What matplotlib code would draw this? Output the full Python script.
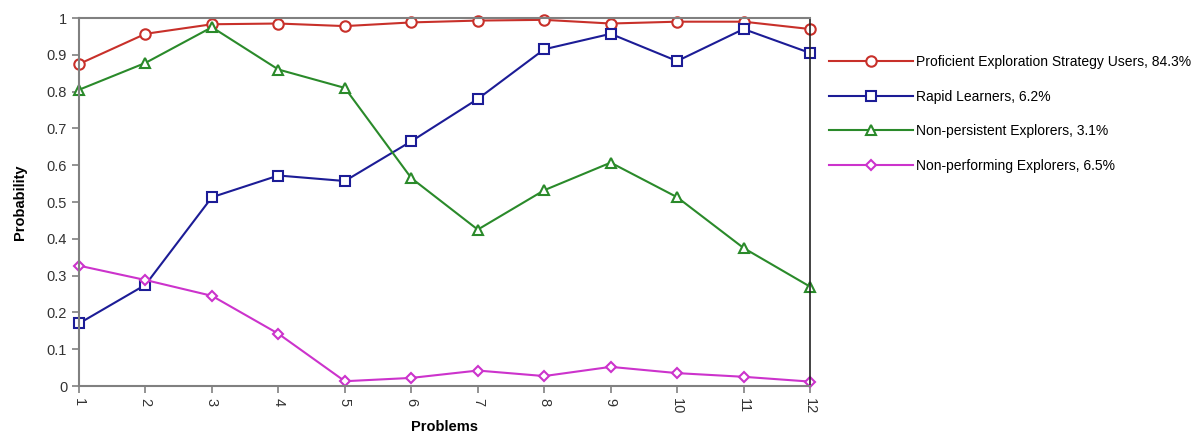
import matplotlib
matplotlib.use("Agg")
import matplotlib.pyplot as plt

# 数据：每个问题上的概率
problems = list(range(1, 13))
proficient = [0.875, 0.957, 0.983, 0.985, 0.978, 0.988, 0.993, 0.995, 0.985, 0.990, 0.990, 0.970]
rapid = [0.170, 0.275, 0.513, 0.572, 0.557, 0.665, 0.780, 0.915, 0.957, 0.883, 0.970, 0.905]
non_persistent = [0.805, 0.878, 0.975, 0.860, 0.810, 0.565, 0.425, 0.532, 0.607, 0.513, 0.375, 0.270]
non_performing = [0.327, 0.288, 0.245, 0.142, 0.013, 0.022, 0.042, 0.027, 0.052, 0.035, 0.025, 0.012]

labels = [
    "Proficient Exploration Strategy Users, 84.3%",
    "Rapid Learners, 6.2%",
    "Non-persistent Explorers, 3.1%",
    "Non-performing Explorers, 6.5%",
]
series = [proficient, rapid, non_persistent, non_performing]
colors = ["#C8302A", "#1C1C96", "#2A8A2A", "#CC33CC"]
markers = ["o", "s", "^", "D"]
sizes = [7.5, 7, 6.5, 5.5]

plt.rcParams["font.family"] = ["Liberation Sans", "DejaVu Sans"]

fig = plt.figure(figsize=(11.99, 4.37), dpi=100)
ax = fig.add_axes([0.0659, 0.1167, 0.6097, 0.8421])

for vals, lab, c, m, ms in zip(series, labels, colors, markers, sizes):
    ax.plot(problems, vals, color=c, marker=m, markersize=ms, markerfacecolor="white",
            markeredgecolor=c, markeredgewidth=1.5, linewidth=1.5, label=lab, clip_on=False)

ax.set_xlim(1, 12)
ax.set_ylim(0, 1)
ax.set_xticks(problems)
ax.set_xticklabels([str(p) for p in problems], rotation=-90, fontsize=10.5, color="#333333")
ax.set_yticks([i / 10 for i in range(11)])
ax.set_yticklabels(["0", "0.1", "0.2", "0.3", "0.4", "0.5", "0.6", "0.7", "0.8", "0.9", "1"],
                   fontsize=10.5, color="#333333")
ax.tick_params(direction="out", length=5, color="#808080", width=1.2)
for s in ["left", "bottom", "top"]:
    ax.spines[s].set_color("#808080")
    ax.spines[s].set_linewidth(1.5)
ax.spines["right"].set_color("#222222")
ax.spines["right"].set_linewidth(1.2)

ax.set_xlabel("Problems", fontsize=10.5, fontweight="bold", labelpad=4)
ax.set_ylabel("Probability", fontsize=10.5, fontweight="bold", labelpad=14)

ax.legend(loc="upper left", bbox_to_anchor=(1.018, 0.914), frameon=False, fontsize=10,
          handlelength=6.1, handletextpad=0.15, labelspacing=1.48, borderaxespad=0)

fig.savefig("out.png", dpi=100)
